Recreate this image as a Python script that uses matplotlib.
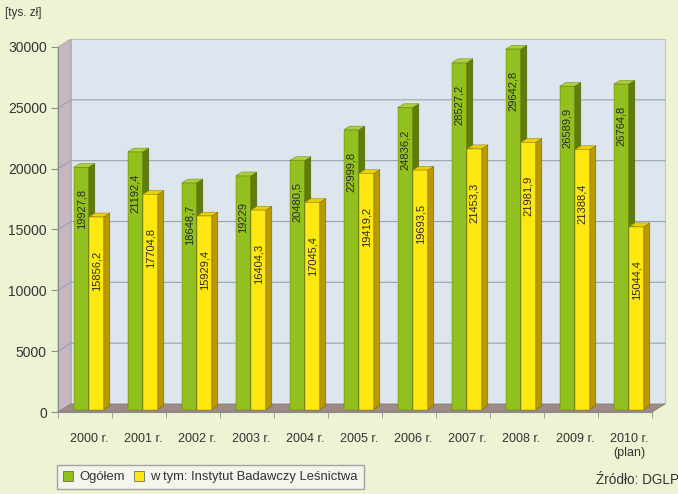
import matplotlib.pyplot as plt
from matplotlib.patches import Polygon, Patch
import numpy as np

plt.rcParams['font.family'] = ['Liberation Sans', 'DejaVu Sans']

# data
years = ['2000 r.', '2001 r.', '2002 r.', '2003 r.', '2004 r.', '2005 r.',
         '2006 r.', '2007 r.', '2008 r.', '2009 r.', '2010 r.\n(plan)']
ogolem = [19927.8, 21192.4, 18648.7, 19229.0, 20480.5, 22999.8,
          24836.2, 28527.2, 29642.8, 26589.9, 26764.8]
ibl = [15856.2, 17704.8, 15929.4, 16404.3, 17045.4, 19419.2,
       19693.5, 21453.3, 21981.9, 21388.4, 15044.4]
yticks = [0, 5000, 10000, 15000, 20000, 25000, 30000]

# colours
bg = '#edf4d4'
wall_back = '#dde5ee'
wall_side = '#c5b6bf'
floor_c = '#9d8b87'
green = ('#92c01e', '#5f7d0c', '#aad03e')   # front, side, top
yellow = ('#ffe812', '#b89a00', '#ecd000')

fig = plt.figure(figsize=(6.78, 4.94), dpi=100, facecolor=bg)
ax = fig.add_axes([58 / 678, 1 - 412 / 494, 594 / 678, 365 / 494])
ax.set_facecolor('none')

n = len(years)
x0, x1 = -0.5, n - 0.5
ymax = 30000
px_x = 54.0            # pixels per category
px_y = 365 / ymax      # pixels per value unit
wdx, wdy = 13 / px_x, 8 / px_y        # wall depth
fdx, fdy = 0.3 * wdx, 0.3 * wdy       # bar front offset
bdx, bdy = 0.46 * wdx, 0.46 * wdy     # bar depth
w = 15 / px_x

ax.set_xlim(x0, x1)
ax.set_ylim(0, ymax)

def poly(pts, fc, z, ec='none', lw=0):
    ax.add_patch(Polygon(pts, closed=True, facecolor=fc, edgecolor=ec,
                         linewidth=lw, zorder=z, clip_on=False))

# walls and floor
poly([(x0 + wdx, wdy), (x1 + wdx, wdy), (x1 + wdx, ymax + wdy), (x0 + wdx, ymax + wdy)],
     wall_back, 1, '#b9b9b9', 0.6)
poly([(x0, 0), (x0 + wdx, wdy), (x0 + wdx, ymax + wdy), (x0, ymax)], wall_side, 1, '#b0a0a8', 0.6)
poly([(x0, 0), (x1, 0), (x1 + wdx, wdy), (x0 + wdx, wdy)], floor_c, 1, '#8a7873', 0.6)

for v in yticks[1:-1]:
    ax.plot([x0, x0 + wdx, x1 + wdx], [v, v + wdy, v + wdy], color='#98a3ae',
            lw=0.8, zorder=2, clip_on=False)

def bar3d(xl, h, cols, z):
    front, side, top = cols
    xr = xl + w
    b = fdy
    poly([(xl + fdx, b), (xr + fdx, b), (xr + fdx, h + b), (xl + fdx, h + b)],
         front, z, '#606000', 0.25)
    poly([(xr + fdx, b), (xr + fdx + bdx, b + bdy), (xr + fdx + bdx, h + b + bdy), (xr + fdx, h + b)],
         side, z, '#505000', 0.25)
    poly([(xl + fdx, h + b), (xr + fdx, h + b), (xr + fdx + bdx, h + b + bdy), (xl + fdx + bdx, h + b + bdy)],
         top, z, '#606000', 0.25)

def fmt(v):
    return str(int(v)) if float(v).is_integer() else f'{v:.1f}'.replace('.', ',')

for i in range(n):
    z = 3 + i * 2
    bar3d(i - w, ogolem[i], green, z)
    bar3d(i, ibl[i], yellow, z + 1)
    ax.annotate(fmt(ogolem[i]), (i - w / 2 + fdx, ogolem[i] + fdy), xytext=(0, -42),
                textcoords='offset pixels', rotation=90, ha='center', va='center',
                fontsize=8, color='#2a2a2a', zorder=40)
    ax.annotate(fmt(ibl[i]), (i + w / 2 + fdx, ibl[i] + fdy), xytext=(0, -54),
                textcoords='offset pixels', rotation=90, ha='center', va='center',
                fontsize=8, color='#2a2a2a', zorder=40)

# axes
for s in ['top', 'right']:
    ax.spines[s].set_visible(False)
ax.spines['left'].set_color('#8f8f8f')
ax.spines['bottom'].set_color('#8f8f8f')
ax.spines['left'].set_zorder(30)
ax.spines['bottom'].set_zorder(30)
ax.set_yticks(yticks)
ax.set_yticklabels([str(v) for v in yticks])
ax.tick_params(axis='y', length=5, color='#8f8f8f', labelsize=10, labelcolor='#333333', pad=3)
ax.set_xticks(np.arange(n) + fdx)
ax.set_xticklabels(years)
ax.set_xticks(np.arange(n + 1) - 0.5, minor=True)
ax.tick_params(axis='x', which='major', length=0, labelsize=9, labelcolor='#333333', pad=15)
ax.tick_params(axis='x', which='minor', length=4, color='#8f8f8f')

fig.text(5 / 678, 1 - 13 / 494, '[tys. zł]', fontsize=8.5, color='#333333', va='center')
fig.text(596 / 678, 1 - 480 / 494, 'Źródło: DGLP', fontsize=9.8, color='#333333', va='center')

handles = [Patch(facecolor=green[0], edgecolor='#555555', lw=0.5),
           Patch(facecolor=yellow[0], edgecolor='#555555', lw=0.5)]
leg = fig.legend(handles, ['Ogółem', 'w tym: Instytut Badawczy Leśnictwa'], ncol=2,
                 loc='lower left', bbox_to_anchor=(57 / 678, 1 - 489 / 494),
                 borderaxespad=0, fontsize=9.4, frameon=True, fancybox=False,
                 handlelength=0.8, handleheight=0.8, handletextpad=0.45,
                 columnspacing=0.7, borderpad=0.45)
leg.get_frame().set_edgecolor('#8f8f8f')
leg.get_frame().set_facecolor('#f7f7f4')
for t in leg.get_texts():
    t.set_color('#333333')

fig.savefig('out.png', dpi=100, facecolor=bg)
